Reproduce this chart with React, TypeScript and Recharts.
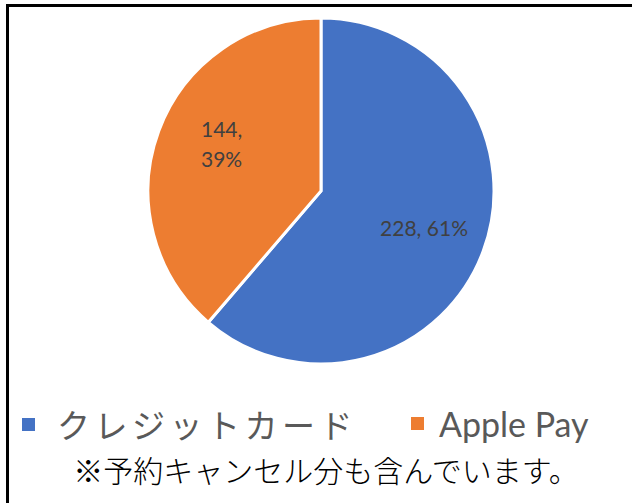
import { PieChart, Pie, Cell, Legend } from "recharts"

const methods = ["クレジットカード", "Apple Pay"]
const counts = [228, 144]
const colors = ["#4472C4", "#ED7D31"]
const footnote = "※予約キャンセル分も含んでいます。"

const data = methods.map((name, i) => ({ name, value: counts[i] }))
const total = counts.reduce((a, b) => a + b, 0)

const RAD = Math.PI / 180

function SliceLabel(props: any) {
  const { cx, cy, midAngle, outerRadius, value, index } = props
  const r = outerRadius * 0.635
  const x = cx + r * Math.cos(-midAngle * RAD)
  const y = cy + r * Math.sin(-midAngle * RAD)
  const pct = Math.round((value / total) * 100) + "%"
  const style = { fontFamily: "Lato", fontSize: 21, fill: "#404040" }
  if (index === 1) {
    return (
      <text x={x - 17} y={y} style={style} textAnchor="start">
        <tspan x={x - 17} dy={-16}>{value},</tspan>
        <tspan x={x - 17} dy={30}>{pct}</tspan>
      </text>
    )
  }
  return (
    <text x={x} y={y} dy={7} style={style} textAnchor="middle">
      {value}, {pct}
    </text>
  )
}

function LegendBox() {
  return (
    <div style={{ position: "relative", width: 632, height: 100 }}>
      <div style={{ position: "absolute", left: 22, top: 2, display: "flex", alignItems: "center" }}>
        <span style={{ width: 13, height: 13, background: colors[0], display: "inline-block" }} />
        <span style={{ marginLeft: 22, fontFamily: "Noto Sans CJK JP", fontSize: 33, letterSpacing: 4.5, color: "#595959" }}>
          {methods[0]}
        </span>
      </div>
      <div style={{ position: "absolute", left: 411, top: 5, display: "flex", alignItems: "center" }}>
        <span style={{ width: 13, height: 13, background: colors[1], display: "inline-block" }} />
        <span style={{ marginLeft: 15, fontFamily: "Lato", fontSize: 34, color: "#595959" }}>{methods[1]}</span>
      </div>
      <div style={{ position: "absolute", left: 8, top: 49, width: 636, textAlign: "center", fontFamily: "Noto Sans CJK JP", fontSize: 30, color: "#000", fontWeight: 300 }}>
        {footnote}
      </div>
    </div>
  )
}

export default function App() {
  return (
    <div style={{ position: "absolute", left: 0, top: 0, width: 632, height: 503, background: "#fff", overflow: "hidden" }}>
      <div style={{ position: "absolute", left: 6, top: 4, width: 640, height: 520, border: "3px solid #000", boxSizing: "border-box" }} />
      <PieChart width={632} height={503} margin={{ top: 0, right: 0, bottom: 0, left: 0 }}>
        <Pie
          data={data}
          dataKey="value"
          nameKey="name"
          cx={321}
          cy={191}
          outerRadius={173}
          startAngle={90}
          endAngle={-270}
          stroke="#fff"
          strokeWidth={3}
          label={SliceLabel}
          labelLine={false}
          isAnimationActive={false}
        >
          {data.map((d, i) => (
            <Cell key={d.name} fill={colors[i]} />
          ))}
        </Pie>
        <Legend
          content={() => <LegendBox />}
          wrapperStyle={{ position: "absolute", left: 0, top: 398, width: 632 }}
        />
      </PieChart>
    </div>
  )
}
